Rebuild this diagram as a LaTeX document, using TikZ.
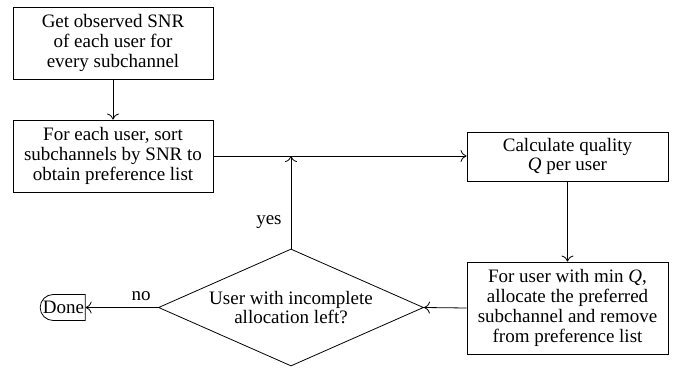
\documentclass[tikz,border=0pt]{standalone}
\usepackage{fontspec}
\setmainfont{Liberation Serif}
\usetikzlibrary{shapes.geometric,shapes.misc,arrows.meta}
\begin{document}
\begin{tikzpicture}[x=0.5pt,y=-0.5pt,
  every node/.style={font=\fontsize{9.5}{9.9}\selectfont},
  procbox/.style={draw,thin,rectangle,align=center,inner sep=0pt},
  decbox/.style={draw,thin,diamond,align=center,inner sep=0pt,aspect=2.26,minimum width=132.5pt,minimum height=58.5pt},
  termbox/.style={draw,thin,rounded rectangle,rounded rectangle right arc=none,inner xsep=2.5pt,inner ysep=0pt,minimum height=13pt,minimum width=27.5pt},
  conn/.style={thin,-{To[length=3pt,width=6pt]}},
  lbl/.style={inner sep=1pt}]
\useasboundingbox (0,0) rectangle (673,368);
\node[procbox,minimum width=100pt,minimum height=36pt] (b1) at (113,43) {Get observed SNR\\of each user for\\every subchannel};
\node[procbox,minimum width=100pt,minimum height=36pt] (b2) at (113,156) {For each user, sort\\subchannels by SNR to\\obtain preference list};
\node[procbox,minimum width=100.5pt,minimum height=24.5pt] (b3) at (567.5,156.5) {Calculate quality\\\textit{Q} per user};
\node[procbox,minimum width=100.5pt,minimum height=46pt] (b4) at (567.5,308) {For user with min \textit{Q},\\allocate the preferred\\subchannel and remove\\from preference list};
\node[decbox] (d) at (291,307.5) {User with incomplete\\allocation left?};
\node[termbox] (done) at (63.5,307.5) {Done};
\coordinate (j) at (d.north |- b2.east);
\draw[conn] (b1) -- (b2);
\draw[conn] (b2.east) -- (b3.west |- b2.east);
\draw[conn] (b3.south) -- (b4.north);
\draw[conn] (b4.west) -- (d.east);
\draw[conn] (d.north) -- node[lbl,pos=0.29,anchor=east,xshift=-3.5pt] {yes} (j);
\draw[conn] (d.west) -- (done.east);
\node[lbl] (nolbl) at (141,296) {no};
\end{tikzpicture}
\end{document}
